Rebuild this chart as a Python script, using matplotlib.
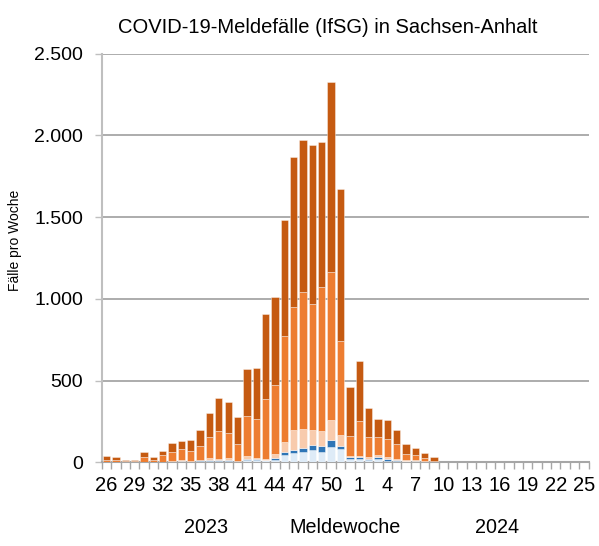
import numpy as np
import matplotlib.pyplot as plt
from matplotlib.ticker import FuncFormatter, FixedLocator

plt.rcParams['font.family'] = ['Liberation Sans', 'DejaVu Sans']

# Meldewochen 26/2023 .. 25/2024
weeks = list(range(26, 53)) + list(range(1, 26))

# Faelle pro Woche, Segmente von unten nach oben
light = [0, 0, 0, 0, 0, 0, 1, 3, 5, 3, 8, 10, 8, 10, 4, 14, 14, 12, 18, 45,
         56, 62, 78, 62, 93, 82, 21, 19, 15, 21, 11, 9, 6, 4, 2, 1]
blue = [0, 0, 0, 0, 0, 0, 0, 2, 3, 2, 4, 6, 6, 6, 2, 8, 6, 4, 8, 20,
        19, 25, 31, 37, 42, 21, 15, 13, 8, 13, 12, 8, 3, 2, 1, 1]
peach = [2, 2, 1, 1, 2, 1, 2, 4, 6, 5, 6, 11, 8, 11, 4, 17, 7, 6, 23, 61,
         122, 120, 92, 91, 123, 63, 4, 10, 11, 14, 13, 4, 4, 7, 8, 2]
orange = [10, 12, 6, 7, 31, 14, 42, 57, 68, 60, 80, 130, 173, 153, 105, 243, 241, 366, 423, 645,
          751, 833, 766, 885, 904, 579, 122, 214, 120, 110, 108, 92, 39, 33, 17, 5]
dark = [27, 18, 9, 10, 30, 18, 26, 52, 49, 69, 98, 145, 199, 192, 163, 287, 309, 521, 541, 713,
        919, 931, 973, 887, 1163, 926, 301, 364, 179, 110, 114, 86, 61, 43, 30, 27]

series = [light, blue, peach, orange, dark]
colors = ['#deebf7', '#2e75b6', '#f8cbad', '#ed7d31', '#c55a11']

n = len(weeks)
x = np.arange(n)

fig = plt.figure(figsize=(5.99, 5.46), dpi=100)
ax = fig.add_axes([0.170, 0.153, 0.8125, 0.749])

bottom = np.zeros(n)
for vals, c in zip(series, colors):
    v = np.zeros(n)
    v[:len(vals)] = vals
    ax.bar(x, v, 0.78, bottom=bottom, color=c, edgecolor=(1, 1, 1, 0.45),
           linewidth=0.6, zorder=3)
    bottom += v

ax.set_xlim(-0.5, n - 0.5)
ax.set_ylim(0, 2500)
ax.set_yticks(np.arange(0, 2501, 500))
ax.yaxis.set_major_formatter(FuncFormatter(lambda v, p: f"{int(v):,}".replace(",", ".")))
ax.grid(axis='y', color='#a6a6a6', linewidth=1.3, zorder=0)

ax.set_xticks(x[::3])
ax.set_xticklabels([str(w) for w in weeks[::3]])
ax.xaxis.set_minor_locator(FixedLocator(np.arange(-0.5, n, 1)))
ax.tick_params(axis='x', which='major', length=0, pad=10, labelsize=14.5)
ax.tick_params(axis='x', which='minor', length=5, color='#a6a6a6', width=1)
ax.tick_params(axis='y', length=5, color='#bfbfbf', width=1, labelsize=14, pad=8.5)

for s in ['top', 'right']:
    ax.spines[s].set_visible(False)
ax.spines['left'].set_color('#bfbfbf')
ax.spines['left'].set_linewidth(1.5)
ax.spines['bottom'].set_color('#a6a6a6')
ax.spines['bottom'].set_linewidth(1.5)

ax.set_title('COVID-19-Meldefälle (IfSG) in Sachsen-Anhalt', fontsize=14.5,
             pad=15, x=0.465)
fig.text(0.025, 0.56, 'Fälle pro Woche', rotation=90, fontsize=10,
         ha='center', va='center')
fig.text(0.344, 0.033, '2023', fontsize=14.2, ha='center', va='center')
fig.text(0.576, 0.033, 'Meldewoche', fontsize=14.2, ha='center', va='center')
fig.text(0.830, 0.033, '2024', fontsize=14.2, ha='center', va='center')

fig.savefig('out.png', dpi=100)
